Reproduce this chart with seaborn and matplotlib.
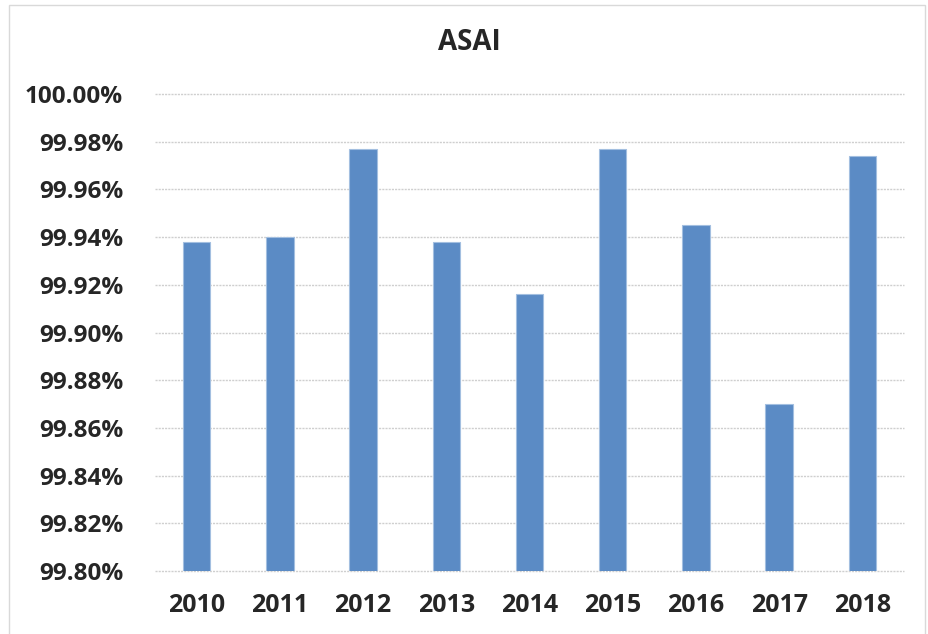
import matplotlib
matplotlib.use("Agg")
import matplotlib.pyplot as plt
import matplotlib.patches as patches
import matplotlib.ticker as mticker
import seaborn as sns
import pandas as pd

# values (percent)
years = ["2010", "2011", "2012", "2013", "2014", "2015", "2016", "2017", "2018"]
asai = [99.938, 99.940, 99.977, 99.938, 99.916, 99.977, 99.945, 99.870, 99.974]
y_ticks = [99.80, 99.82, 99.84, 99.86, 99.88, 99.90, 99.92, 99.94, 99.96, 99.98, 100.00]

df = pd.DataFrame({"year": years, "asai": asai})

sns.set_style("white")
plt.rcParams["font.family"] = ["Open Sans", "DejaVu Sans"]

fig = plt.figure(figsize=(9.29, 6.34), dpi=100)
ax = fig.add_axes([155 / 929, 63 / 634, 749 / 929, 477 / 634])

sns.barplot(data=df, x="year", y="asai", color="#5b8bc5", width=0.33,
            edgecolor="#a3bfe0", linewidth=0.8, saturation=1, ax=ax, zorder=3)

ax.set_ylim(99.80, 100.00)
ax.set_yticks(y_ticks)
ax.yaxis.set_major_formatter(mticker.FuncFormatter(lambda v, p: f"{v:.2f}%"))
ax.set_xlim(-0.5, len(years) - 0.5)

ax.grid(axis="y", color="#cfcfcf", linestyle=(0, (1.5, 0.8)), linewidth=1, zorder=0)
ax.set_axisbelow(True)
for gl in ax.get_ygridlines():
    gl.set_clip_on(False)
for s in ax.spines.values():
    s.set_visible(False)

ax.tick_params(axis="y", length=0, pad=23, labelsize=17.5)
ax.tick_params(axis="x", length=0, pad=16, labelsize=18)
for lbl in ax.get_xticklabels() + ax.get_yticklabels():
    lbl.set_fontweight("bold")

ax.set_xlabel("")
ax.set_ylabel("")

fig.text(469 / 929, 1 - 42 / 634, "ASAI", ha="center", va="center",
         fontsize=20, fontweight="bold")

# chart area border
border = patches.Rectangle((9 / 929, -0.05), 916 / 929, 1.05 - 4.5 / 634,
                           transform=fig.transFigure, fill=False,
                           edgecolor="#d9d9d9", linewidth=1)
fig.patches.append(border)

fig.savefig("out.png", dpi=100)
